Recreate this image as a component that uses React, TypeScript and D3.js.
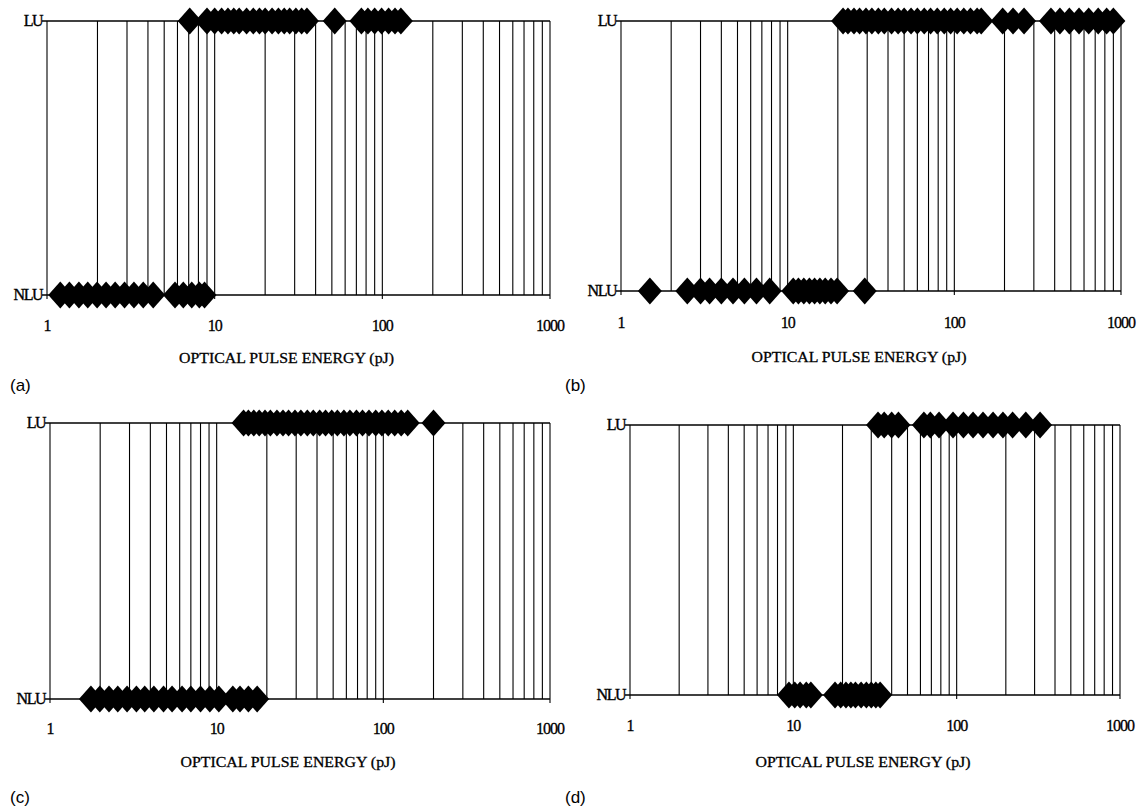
import React from "react";
import * as d3 from "d3";

// pulse energies (pJ) that gave latch-up (LU) / no latch-up (NLU)
const luA = [7.1, 9, 10, 11, 12, 13, 14, 15.5, 17, 18.5, 20, 22, 24, 26, 28, 30.5, 33, 35.5, 52, 75, 82, 90, 99, 109, 119, 129];
const nluA = [1.2, 1.36, 1.55, 1.75, 1.99, 2.25, 2.55, 2.9, 3.3, 3.75, 4.3, 5.8, 6.5, 7.3, 8.1, 8.7];

const luB = [21.5, 23, 25, 27, 29.5, 32, 35, 38, 42, 46, 50, 55, 60, 66, 72, 79, 87, 95, 104, 114, 125, 137, 145, 195, 225, 262, 380, 430, 490, 560, 640, 730, 820, 900];
const nluB = [1.49, 2.5, 3.0, 3.4, 4.0, 4.7, 5.5, 6.5, 7.8, 10.8, 11.6, 12.5, 13.5, 14.5, 15.6, 16.8, 18.2, 19.8, 29];

const luC = [14.5, 15.5, 16.7, 18, 19.5, 21, 23, 25, 27, 29.5, 32, 35, 38, 41.5, 45, 49, 53, 58, 63, 69, 75, 82, 90, 98, 107, 117, 128, 140, 200];
const nluC = [1.76, 1.99, 2.26, 2.55, 2.9, 3.3, 3.7, 4.2, 4.8, 5.4, 6.2, 7.0, 8.0, 9.1, 10.3, 12.5, 13.8, 15.5, 17.5];

const luD = [33, 36, 40, 44, 63, 69, 78, 95, 110, 126, 145, 167, 192, 220, 265, 324];
const nluD = [9.4, 10.2, 11, 12, 12.8, 18, 19.5, 21, 22.5, 24, 26, 28, 30, 32, 34];

const tickLabels = [1, 10, 100, 1000];
const states = ["NLU", "LU"];
const axisTitle = "OPTICAL PULSE ENERGY (pJ)";

const panels = [
  { tag: "(a)", lu: luA, nlu: nluA, x0: 47, x1: 550, yLU: 21, yNLU: 295, tickY: 331, titleY: 363, tagX: 10, tagY: 391 },
  { tag: "(b)", lu: luB, nlu: nluB, x0: 621, x1: 1121, yLU: 21, yNLU: 291, tickY: 328, titleY: 362, tagX: 565, tagY: 391 },
  { tag: "(c)", lu: luC, nlu: nluC, x0: 50, x1: 550, yLU: 423, yNLU: 699, tickY: 734, titleY: 767, tagX: 10, tagY: 803 },
  { tag: "(d)", lu: luD, nlu: nluD, x0: 630, x1: 1120, yLU: 425, yNLU: 695, tickY: 731, titleY: 767, tagX: 565, tagY: 803 },
];

const SERIF = "'Liberation Serif', 'Times New Roman', serif";
const SANS = "'Liberation Sans', Arial, sans-serif";

// diamond marker, ~24 x 27 px
const diamond = "M-12,0L0,-13.5L12,0L0,13.5Z";

function Panel({ p }: { p: (typeof panels)[number] }) {
  const x = d3.scaleLog().domain([1, 1000]).range([p.x0, p.x1]);
  const y = d3.scalePoint<string>().domain(states).range([p.yNLU, p.yLU]);
  const grid = x.ticks();
  const pts = [
    ...p.nlu.map((v) => ({ v, s: "NLU" })),
    ...p.lu.map((v) => ({ v, s: "LU" })),
  ];
  const cx = (p.x0 + p.x1) / 2;

  return (
    <g>
      {/* vertical grid */}
      {grid.map((t) => (
        <line key={t} x1={x(t)} x2={x(t)} y1={y("LU")!} y2={y("NLU")! + (tickLabels.includes(t) ? 4 : 0)} stroke="#000" strokeWidth={1.1} />
      ))}
      {/* LU / NLU levels */}
      {states.map((s) => (
        <g key={s}>
          <line x1={p.x0 - 5} x2={p.x1} y1={y(s)!} y2={y(s)!} stroke="#000" strokeWidth={1.4} />
          <text x={p.x0 - 5} y={y(s)! + 5} textAnchor="end" fontFamily={SERIF} fontSize={16} letterSpacing={-1.5} stroke="#000" strokeWidth={0.35}>
            {s}
          </text>
        </g>
      ))}
      {/* markers */}
      {pts.map((d, i) => (
        <path key={i} d={diamond} transform={`translate(${x(d.v)},${y(d.s)})`} fill="#000" />
      ))}
      {/* tick labels */}
      {tickLabels.map((t) => (
        <text key={t} x={x(t)} y={p.tickY} textAnchor="middle" fontFamily={SERIF} fontSize={16} letterSpacing={-1} stroke="#000" strokeWidth={0.3}>
          {t}
        </text>
      ))}
      <text x={cx - 12} y={p.titleY} textAnchor="middle" fontFamily={SERIF} fontSize={15} textLength={215} lengthAdjust="spacingAndGlyphs" stroke="#000" strokeWidth={0.3}>
        {axisTitle}
      </text>
      <text x={p.tagX} y={p.tagY} fontFamily={SANS} fontSize={17}>
        {p.tag}
      </text>
    </g>
  );
}

export default function App() {
  return (
    <svg width={1146} height={812} style={{ position: "absolute", left: 0, top: 0, background: "#fff" }}>
      <rect width={1146} height={812} fill="#fff" />
      {panels.map((p) => (
        <Panel key={p.tag} p={p} />
      ))}
    </svg>
  );
}
